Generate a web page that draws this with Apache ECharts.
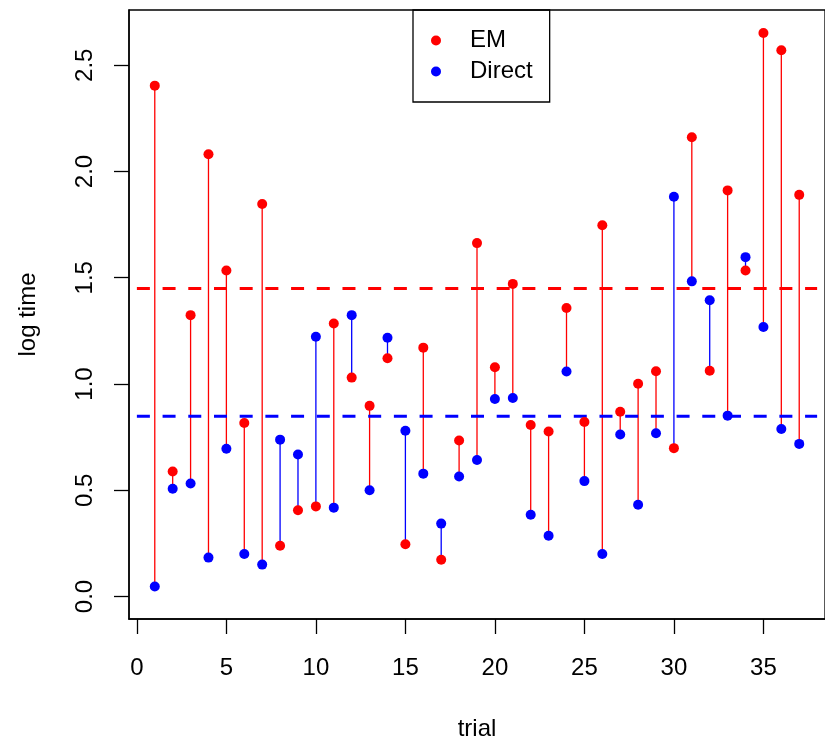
<!DOCTYPE html>
<html>
<head>
<meta charset="utf-8">
<script src="https://cdn.jsdelivr.net/npm/echarts@6/dist/echarts.min.js"></script>
<style>
  html, body { margin: 0; padding: 0; background: #fff; }
  #main { width: 825px; height: 746px; }
</style>
</head>
<body>
<div id="main"></div>
<script>
var trials = [];
for (var t = 1; t <= 37; t++) trials.push(t);

var emTimes = [2.404, 0.588, 1.324, 2.081, 1.534, 0.816, 1.847, 0.239, 0.406, 0.424,
               1.285, 1.030, 0.897, 1.121, 0.246, 1.171, 0.173, 0.734, 1.663, 1.079,
               1.471, 0.807, 0.776, 1.358, 0.821, 1.747, 0.869, 1.001, 1.060, 0.698,
               2.161, 1.062, 1.911, 1.534, 2.652, 2.571, 1.890];
var directTimes = [0.047, 0.507, 0.532, 0.183, 0.695, 0.200, 0.150, 0.738, 0.668, 1.222,
                   0.418, 1.324, 0.500, 1.218, 0.780, 0.578, 0.343, 0.565, 0.642, 0.929,
                   0.934, 0.385, 0.286, 1.059, 0.543, 0.200, 0.762, 0.432, 0.768, 1.881,
                   1.483, 1.394, 0.851, 1.597, 1.268, 0.788, 0.718];
var emLevel = 1.449;
var directLevel = 0.848;
var xTicks = [0, 5, 10, 15, 20, 25, 30, 35];
var yTicks = [0, 0.5, 1.0, 1.5, 2.0, 2.5];

window.onload = function() {
    var myChart = echarts.init(document.getElementById('main'));
    var font = "'Liberation Sans', Arial, sans-serif";

    var pairs = trials.map(function(t, i) { return [t, emTimes[i], directTimes[i]]; });

    var option = {
        animation: false,
        textStyle: { fontFamily: font, color: '#000' },
        grid: {
            left: 129, top: 10, width: 705, height: 612,
            show: true, borderColor: '#000', borderWidth: 1.3
        },
        legend: {
            data: ['EM', 'Direct'],
            left: 413, top: 10,
            orient: 'vertical',
            icon: 'circle',
            itemWidth: 10, itemHeight: 10, itemGap: 0,
            padding: [15, 17, 15, 18],
            borderColor: '#000', borderWidth: 1.3,
            textStyle: { fontFamily: font, fontSize: 24, lineHeight: 31, color: '#000', padding: [0, 0, 0, 24] }
        },
        xAxis: {
            type: 'value',
            min: -0.44, max: 38.44,
            name: 'trial',
            nameLocation: 'middle',
            nameGap: 98,
            nameTextStyle: { fontFamily: font, fontSize: 24, color: '#000' },
            splitLine: { show: false },
            axisLine: { show: true, onZero: false, lineStyle: { color: '#000', width: 1.5 } },
            axisTick: { show: true, length: 15, customValues: xTicks, lineStyle: { color: '#000', width: 1.3 } },
            axisLabel: { customValues: xTicks, margin: 37, fontSize: 24, color: '#000', fontFamily: font }
        },
        yAxis: {
            type: 'value',
            min: -0.106, max: 2.76,
            name: 'log time',
            nameLocation: 'middle',
            nameRotate: 90,
            nameGap: 89,
            nameTextStyle: { fontFamily: font, fontSize: 24, color: '#000' },
            splitLine: { show: false },
            axisLine: { show: true, onZero: false, lineStyle: { color: '#000', width: 1.5 } },
            axisTick: { show: true, length: 15, customValues: yTicks, lineStyle: { color: '#000', width: 1.3 } },
            axisLabel: {
                customValues: yTicks, margin: 32, rotate: 90, fontSize: 24, color: '#000', fontFamily: font,
                formatter: function(v) { return v.toFixed(1); }
            }
        },
        series: [{
            type: 'custom',
            data: pairs,
            encode: { x: 0, y: [1, 2] },
            renderItem: function(params, api) {
                var x = api.value(0), a = api.value(1), b = api.value(2);
                var p1 = api.coord([x, a]), p2 = api.coord([x, b]);
                return {
                    type: 'line',
                    shape: { x1: p1[0], y1: p1[1], x2: p2[0], y2: p2[1] },
                    style: { stroke: a > b ? '#FF0000' : '#0000FF', lineWidth: 1.3 }
                };
            },
            z: 1
        }, {
            type: 'line',
            data: [[0, emLevel], [38, emLevel]],
            symbol: 'none',
            lineStyle: { color: '#FF0000', width: 3, type: [13, 12.7] },
            z: 2
        }, {
            type: 'line',
            data: [[0, directLevel], [38, directLevel]],
            symbol: 'none',
            lineStyle: { color: '#0000FF', width: 3, type: [13, 12.7] },
            z: 2
        }, {
            name: 'EM',
            type: 'scatter',
            data: trials.map(function(t, i) { return [t, emTimes[i]]; }),
            symbolSize: 10,
            itemStyle: { color: '#FF0000', opacity: 1 },
            z: 3
        }, {
            name: 'Direct',
            type: 'scatter',
            data: trials.map(function(t, i) { return [t, directTimes[i]]; }),
            symbolSize: 10,
            itemStyle: { color: '#0000FF', opacity: 1 },
            z: 3
        }]
    };

    myChart.setOption(option);
};
</script>
</body>
</html>
